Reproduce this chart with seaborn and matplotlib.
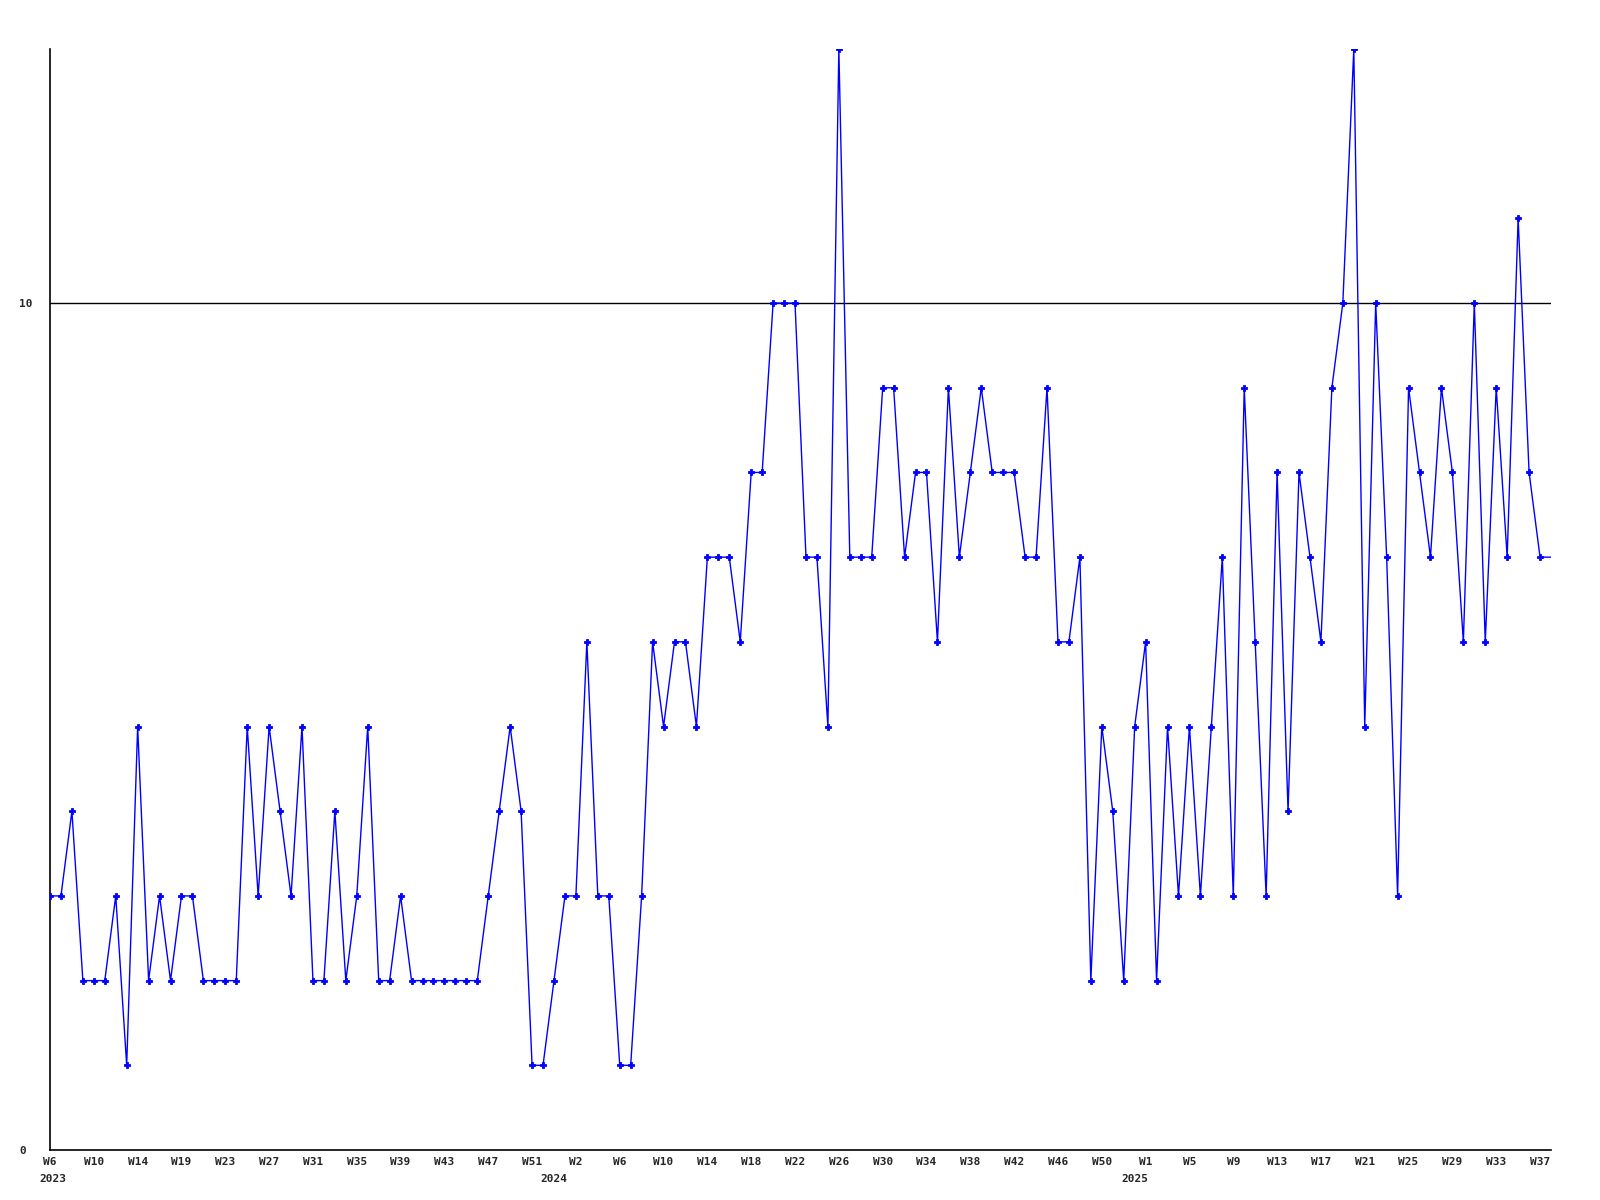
import numpy as np
import pandas as pd
import matplotlib.pyplot as plt
import seaborn as sns

# weekly counts, W6 2023 .. W37 2025 (last value is the open week, drawn without a marker)
values = [
    3, 3, 4, 2, 2, 2, 3, 1, 5, 2, 3, 2, 3, 3, 2, 2, 2, 2, 5, 3,
    5, 4, 3, 5, 2, 2, 4, 2, 3, 5, 2, 2, 3, 2, 2, 2, 2, 2, 2, 2,
    3, 4, 5, 4, 1, 1, 2, 3, 3, 6, 3, 3, 1, 1, 3, 6, 5, 6, 6, 5,
    7, 7, 7, 6, 8, 8, 10, 10, 10, 7, 7, 5, 13, 7, 7, 7, 9, 9, 7, 8,
    8, 6, 9, 7, 8, 9, 8, 8, 8, 7, 7, 9, 6, 6, 7, 2, 5, 4, 2, 5,
    6, 2, 5, 3, 5, 3, 5, 7, 3, 9, 6, 3, 8, 4, 8, 7, 6, 9, 10, 13,
    5, 10, 7, 3, 9, 8, 7, 9, 8, 6, 10, 6, 9, 7, 11, 8, 7, 7,
]

week_labels = [
    "W6", "W10", "W14", "W19", "W23", "W27", "W31", "W35", "W39", "W43",
    "W47", "W51", "W2", "W6", "W10", "W14", "W18", "W22", "W26", "W30",
    "W34", "W38", "W42", "W46", "W50", "W1", "W5", "W9", "W13", "W17",
    "W21", "W25", "W29", "W33", "W37",
]
week_ticks = list(range(0, 137, 4))

years = ["2023", "2024", "2025"]
year_pos = [0.3, 46, 99]

df = pd.DataFrame({"idx": np.arange(len(values)), "count": values})

sns.set_style("white")
plt.rcParams["font.family"] = ["DejaVu Sans Mono", "DejaVu Sans"]

fig = plt.figure(figsize=(16, 12), dpi=100)
ax = fig.add_axes([50 / 1600, 1 - 1150 / 1200, 1501 / 1600, 1101 / 1200])

ax.axhline(10, color="black", lw=1, zorder=1)

sns.lineplot(data=df, x="idx", y="count", ax=ax, color="#0000ff", lw=1.0,
             marker="P", markersize=5, markeredgewidth=0.6,
             markeredgecolor="#0000ff",
             markevery=list(range(len(values) - 1)), zorder=3)

ax.set_xlim(0, len(values) - 1)
ax.set_ylim(0, 13)

ax.set_xticks(week_ticks)
ax.set_xticklabels(week_labels, fontsize=8, fontweight="bold")
ax.set_yticks([0, 10])
ax.set_yticklabels(["0", "10"], fontsize=8, fontweight="bold", ha="left")
ax.tick_params(axis="x", length=0, pad=5)
ax.tick_params(axis="y", length=0, pad=22)

for yr, pos in zip(years, year_pos):
    ax.text(pos, -0.022, yr, transform=ax.get_xaxis_transform(),
            ha="center", va="top", fontsize=8, fontweight="bold")

ax.set_xlabel("")
ax.set_ylabel("")
for side in ["top", "right"]:
    ax.spines[side].set_visible(False)
for side in ["left", "bottom"]:
    ax.spines[side].set_color("black")
    ax.spines[side].set_linewidth(1.2)

fig.savefig("out.png", dpi=100)
